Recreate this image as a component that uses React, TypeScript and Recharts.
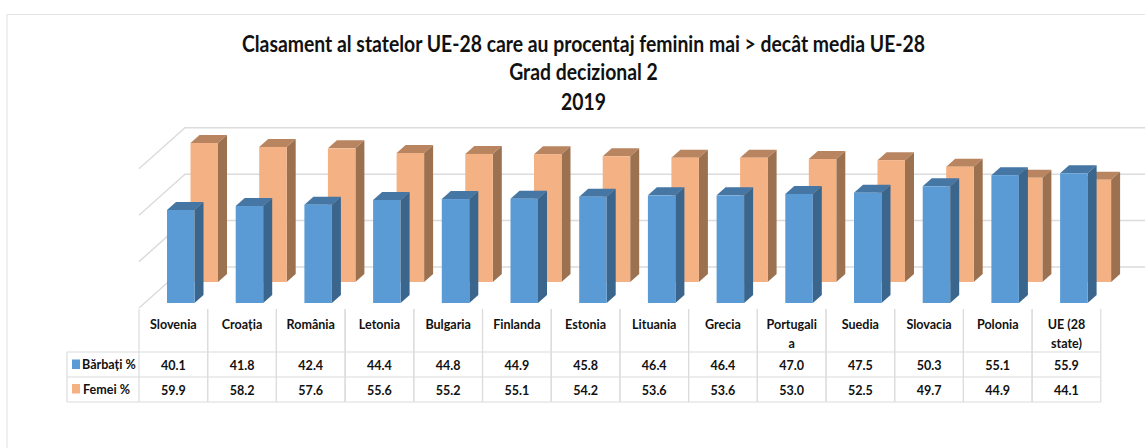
import React from "react";
import { BarChart, Bar, XAxis, YAxis, CartesianGrid, Customized } from "recharts";

const categories = ["Slovenia", "Croația", "România", "Letonia", "Bulgaria", "Finlanda", "Estonia", "Lituania", "Grecia", "Portugalia", "Suedia", "Slovacia", "Polonia", "UE (28 state)"];
const barbati = [40.1, 41.8, 42.4, 44.4, 44.8, 44.9, 45.8, 46.4, 46.4, 47.0, 47.5, 50.3, 55.1, 55.9];
const femei = [59.9, 58.2, 57.6, 55.6, 55.2, 55.1, 54.2, 53.6, 53.6, 53.0, 52.5, 49.7, 44.9, 44.1];
const titleLines = ["Clasament al statelor UE-28 care au procentaj feminin mai > decât media UE-28", "Grad decizional 2", "2019"];
const yTicks = [0, 20, 40, 60];

const data = categories.map((c, i) => ({ name: c, b: barbati[i], f: femei[i] }));

const FONT = "Lato, sans-serif";
const GRID = "#dcdcdc";
const SHIFT = 19.5;
const STEP = 68.7;

function wrapLabel(s: string): string[] {
  if (s.includes(" ")) return s.split(" ").reduce<string[]>((acc, w) => {
    if (acc.length && (acc[acc.length - 1] + " " + w).length <= 6) acc[acc.length - 1] += " " + w;
    else acc.push(w);
    return acc;
  }, []);
  if (s.length > 9) return [s.slice(0, 9), s.slice(9)];
  return [s];
}

function T({ x, y, size = 13.5, sx = 0.93, anchor = "middle", children }: any) {
  return (
    <text
      transform={`translate(${x},${y}) scale(${sx},1)`}
      textAnchor={anchor}
      fontFamily={FONT}
      fontWeight={700}
      fontSize={size}
      fill="#111"
    >
      {children}
    </text>
  );
}

function Box3D(props: any) {
  const { x, y, width: w, height: h, front, side, top, dy } = props;
  const d = 9, e = 8;
  const Y = y + dy;
  return (
    <g>
      <polygon points={`${x},${Y} ${x + d},${Y - e} ${x + w + d},${Y - e} ${x + w},${Y}`} fill={top} />
      <polygon points={`${x + w},${Y} ${x + w + d},${Y - e} ${x + w + d},${Y + h - e} ${x + w},${Y + h}`} fill={side} />
      <rect x={x} y={Y} width={w} height={h} fill={front} />
    </g>
  );
}

function GridLine(props: any) {
  const { y1 } = props;
  return (
    <polyline
      points={`139,${y1 + 5} 185,${y1 - 36} 1147,${y1 - 36}`}
      fill="none"
      stroke={GRID}
      strokeWidth={1.5}
    />
  );
}

function ColumnTick(props: any) {
  const { x, index, payload } = props;
  const cx = x - SHIFT;
  const lines = wrapLabel(String(payload.value));
  const left = cx - STEP / 2;
  const right = cx + STEP / 2;
  return (
    <g>
      <line x1={left} x2={left} y1={309} y2={402} stroke={GRID} strokeWidth={1.2} />
      <line x1={right} x2={right} y1={309} y2={402} stroke={GRID} strokeWidth={1.2} />
      {lines.map((l, i) => (
        <T key={l} x={cx} y={329 + i * 19}>{l}</T>
      ))}
      <T x={cx} y={370}>{barbati[index].toFixed(1)}</T>
      <T x={cx} y={395}>{femei[index].toFixed(1)}</T>
    </g>
  );
}

function Extras() {
  return (
    <g>
      <line x1={7} x2={7} y1={14.5} y2={448} stroke="#e4e4e4" strokeWidth={1.2} />
      <line x1={7} x2={1145} y1={14.5} y2={14.5} stroke="#e4e4e4" strokeWidth={1.2} />
      {titleLines.map((t, i) => (
        <T key={t} x={583.5} y={[52, 80, 110][i]} size={22} sx={0.881}>{t}</T>
      ))}
      <line x1={67} x2={67} y1={352} y2={402} stroke={GRID} strokeWidth={1.2} />
      {[352, 377, 402].map((y) => (
        <line key={y} x1={67} x2={1101} y1={y} y2={y} stroke={GRID} strokeWidth={1.2} />
      ))}
      <rect x={72} y={359.5} width={8} height={9.5} fill="#5B9BD5" />
      <T x={82} y={369} anchor="start">Bărbați %</T>
      <rect x={72} y={384} width={8} height={9.5} fill="#F4B183" />
      <T x={83} y={394} anchor="start">Femei %</T>
    </g>
  );
}

export default function App() {
  return (
    <div style={{ position: "absolute", left: 0, top: 0, width: 1145, height: 448, background: "#fff", overflow: "hidden" }}>
      <BarChart
        width={1145}
        height={448}
        data={data}
        margin={{ top: 163.8, right: 24.7, bottom: 115, left: 158.5 }}
        barSize={27.5}
        barGap={-51}
      >
        <CartesianGrid vertical={false} horizontal={GridLine as any} />
        <XAxis dataKey="name" height={30} axisLine={false} tickLine={false} interval={0} tick={ColumnTick as any} />
        <YAxis hide width={0} domain={[0, 60]} ticks={yTicks} />
        <Bar dataKey="f" isAnimationActive={false} shape={(p: any) => <Box3D {...p} dy={-21} front="#F4B183" side="#9C7150" top="#B98560" />} />
        <Bar dataKey="b" isAnimationActive={false} shape={(p: any) => <Box3D {...p} dy={0} front="#5B9BD5" side="#3A658C" top="#4676A3" />} />
        <Customized component={Extras} />
      </BarChart>
    </div>
  );
}
